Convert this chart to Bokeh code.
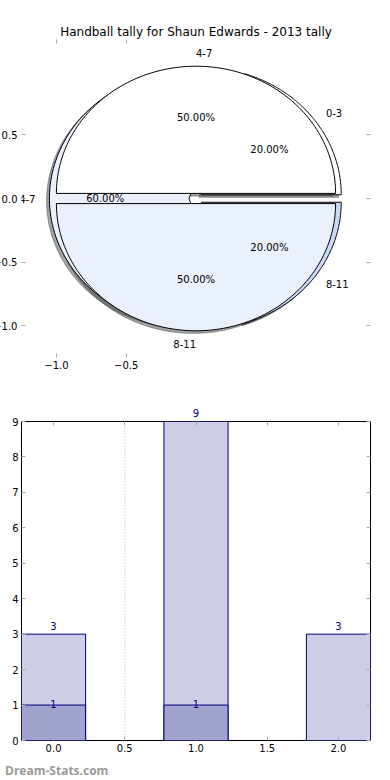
import numpy as np
from bokeh.plotting import figure
from bokeh.layouts import column
from bokeh.models import (ColumnDataSource, Range1d, FixedTicker, LinearAxis,
                          Label, Span, Div, PrintfTickFormatter)
from bokeh.core.properties import value
from bokeh.embed import file_html
from bokeh.resources import INLINE

# ---------------- data ----------------
title_text = "Handball tally for Shaun Edwards - 2013 tally"
pie1_labels = ["0-3", "4-7", "8-11"]
pie1_pct = [20.0, 60.0, 20.0]
pie2_labels = ["4-7", "8-11"]
pie2_pct = [50.0, 50.0]
pie_xticks = [-1.0, -0.5]
pie_xtick_labels = ["\u22121.0", "\u22120.5"]
pie_yticks = [-1.0, -0.5, 0.0, 0.5]
pie_ytick_labels = ["\u22121.0", "\u22120.5", "0.0", "0.5"]

bar_x = [0, 1, 2]
bar_total = [3, 9, 3]
bar_sub = [1, 1, 0]
bar_ymax = 9
bar_yticks = [0, 1, 2, 3, 4, 5, 6, 7, 8, 9]
bar_xticks = [0.0, 0.5, 1.0, 1.5, 2.0]
separators = [0.5]
watermark = "Dream-Stats.com"

# ---------------- styles ----------------
FONT = "DejaVu Sans"
pie1_colors = ["#ffffff", "#eaf0fc", "#c8daf7"]
pie2_colors = ["#ffffff", "#eaf0fc"]
pie1_explode = 0.05
pie2_explode = 0.04
SH = (-0.02, -0.02)
TICK = "#a8a8a8"
NAVY = "#000080"


def wedges(pcts, explode):
    out = []
    start = 0.0
    for p in pcts:
        t1 = start
        t2 = start + 2 * np.pi * p / 100.0
        mid = (t1 + t2) / 2
        cx, cy = explode * np.cos(mid), explode * np.sin(mid)
        ang = np.linspace(t1, t2, 120)
        xs = np.concatenate([[cx], cx + np.cos(ang), [cx]])
        ys = np.concatenate([[cy], cy + np.sin(ang), [cy]])
        out.append((xs, ys, cx, cy, mid))
        start = t2
    return out


def shade(hexcol):
    r, g, b = (int(hexcol[i:i + 2], 16) for i in (1, 3, 5))
    return "#%02x%02x%02x" % (int(r * 0.3), int(g * 0.3), int(b * 0.3))


def add_axes(p, xt, yt, xlab, ylab, line_color):
    axes = {}
    for loc, ticks, labs, show in (("below", xt, xlab, True), ("above", xt, None, False),
                                   ("left", yt, ylab, True), ("right", yt, None, False)):
        ax = LinearAxis(ticker=FixedTicker(ticks=ticks))
        ax.major_tick_in = 4
        ax.major_tick_out = 0
        ax.minor_tick_line_color = None
        ax.major_tick_line_color = TICK
        ax.axis_line_color = line_color
        if show:
            ax.major_label_text_font = FONT
            ax.major_label_text_font_size = "10px"
            ax.major_label_text_color = "#000000"
            ax.major_label_standoff = 3
            if labs is not None:
                ax.major_label_overrides = {t: l for t, l in zip(ticks, labs)}
        else:
            ax.major_label_text_font_size = "0px"
            ax.major_label_standoff = 0
            ax.major_label_text_color = None
        p.add_layout(ax, loc)
        axes[loc] = ax
    return axes


# ---------------- pie figure ----------------
p1 = figure(width=388, height=372, output_backend="svg", toolbar_location=None,
            x_range=Range1d(-1.25, 1.25), y_range=Range1d(-1.25, 1.25),
            min_border_left=30, min_border_right=8, min_border_top=31,
            min_border_bottom=23, x_axis_location=None, y_axis_location=None)
p1.outline_line_color = None
p1.grid.visible = False
p1.title.text = title_text
p1.title.align = "center"
p1.title.text_font = FONT
p1.title.text_font_size = "12px"
p1.title.text_font_style = "normal"
p1.title.text_color = "#000000"
p1.title.standoff = 2

ax1 = add_axes(p1, pie_xticks, pie_yticks, pie_xtick_labels, pie_ytick_labels, None)
ax1["left"].major_label_standoff = 4

w1 = wedges(pie1_pct, pie1_explode)
w2 = wedges(pie2_pct, pie2_explode)

# shadows (behind everything)
for ws, cols in ((w1, pie1_colors), (w2, pie2_colors)):
    for (xs, ys, cx, cy, mid), c in zip(ws, cols):
        p1.patch(xs + SH[0], ys + SH[1], fill_color=shade(c), fill_alpha=0.5,
                 line_color=shade(c), line_alpha=0.5, line_width=1)
# wedges
for ws, cols in ((w1, pie1_colors), (w2, pie2_colors)):
    for (xs, ys, cx, cy, mid), c in zip(ws, cols):
        p1.patch(xs, ys, fill_color=c, line_color="#000000", line_width=1)

# labels
for ws, labs, pcts in ((w1, pie1_labels, pie1_pct), (w2, pie2_labels, pie2_pct)):
    lx, ly, la, px, py, pt = [], [], [], [], [], []
    for (xs, ys, cx, cy, mid), lab, pc in zip(ws, labs, pcts):
        xt = cx + 1.1 * np.cos(mid)
        yt = cy + 1.1 * np.sin(mid)
        lx.append(xt); ly.append(yt)
        la.append("left" if xt > 0 else "right")
        px.append(cx + 0.6 * np.cos(mid)); py.append(cy + 0.6 * np.sin(mid))
        pt.append("%.2f%%" % pc)
    src = ColumnDataSource(dict(x=lx, y=ly, t=labs, a=la))
    p1.text(x="x", y="y", text="t", text_align="a", text_baseline="middle",
            text_font=value(FONT), text_font_size="10px", text_color="#000000", source=src)
    p1.text(x=px, y=py, text=pt, text_align="center", text_baseline="middle",
            text_font=value(FONT), text_font_size="10px", text_color="#000000")

# ---------------- bar figure ----------------
p2 = figure(width=388, height=376, output_backend="svg", toolbar_location=None,
            x_range=Range1d(-0.225, 2.225), y_range=Range1d(0, bar_ymax),
            min_border_left=30, min_border_right=8, min_border_top=41,
            min_border_bottom=16, x_axis_location=None, y_axis_location=None)
p2.outline_line_color = "#000000"
p2.outline_line_width = 1
p2.grid.visible = False
ax2 = add_axes(p2, bar_xticks, bar_yticks, None, None, None)
ax2["below"].formatter = PrintfTickFormatter(format="%.1f")

# value labels of bars reaching the top of the frame go on the top axis
top_over = {}
for t in bar_xticks:
    top_over[t] = ""
for x, v in zip(bar_x, bar_total):
    if v >= bar_ymax:
        top_over[float(x)] = str(v)
ax2["above"].major_label_overrides = top_over
ax2["above"].major_label_text_font = FONT
ax2["above"].major_label_text_font_size = "10px"
ax2["above"].major_label_text_color = NAVY
ax2["above"].major_label_standoff = 5

for s in separators:
    p2.add_layout(Span(location=s, dimension="height", line_color="#bbbbbb",
                       line_dash="1 2", line_width=1))

src_t = ColumnDataSource(dict(x=bar_x, top=bar_total))
p2.vbar(x="x", top="top", bottom=0, width=0.45, source=src_t,
        fill_color="#cdcde6", line_color=NAVY, line_width=1)
sub_x = [x for x, v in zip(bar_x, bar_sub) if v > 0]
sub_v = [v for v in bar_sub if v > 0]
src_s = ColumnDataSource(dict(x=sub_x, top=sub_v))
p2.vbar(x="x", top="top", bottom=0, width=0.45, source=src_s,
        fill_color="#a2a2cf", line_color=NAVY, line_width=1)

for x, v in zip(bar_x, bar_total):
    if v < bar_ymax:
        p2.add_layout(Label(x=x, y=v, text=str(v), text_align="center",
                            text_baseline="bottom", y_offset=4, text_font=FONT,
                            text_font_size="10px", text_color=NAVY))
for x, v in zip(sub_x, sub_v):
    p2.add_layout(Label(x=x, y=v, text=str(v), text_align="center",
                        text_baseline="middle", y_offset=1, text_font=FONT,
                        text_font_size="10px", text_color=NAVY))

wm = Div(text=watermark, width=200, height=24,
         styles={"font-family": "Open Sans", "font-size": "12px", "font-weight": "bold",
                 "color": "#9a9a9a", "line-height": "12px", "padding-top": "4px",
                 "padding-left": "10px", "white-space": "nowrap"})

layout = column(p1, p2, wm, margin=(8, 0, 0, -10))
open("out.html", "w").write(file_html(layout, INLINE))
